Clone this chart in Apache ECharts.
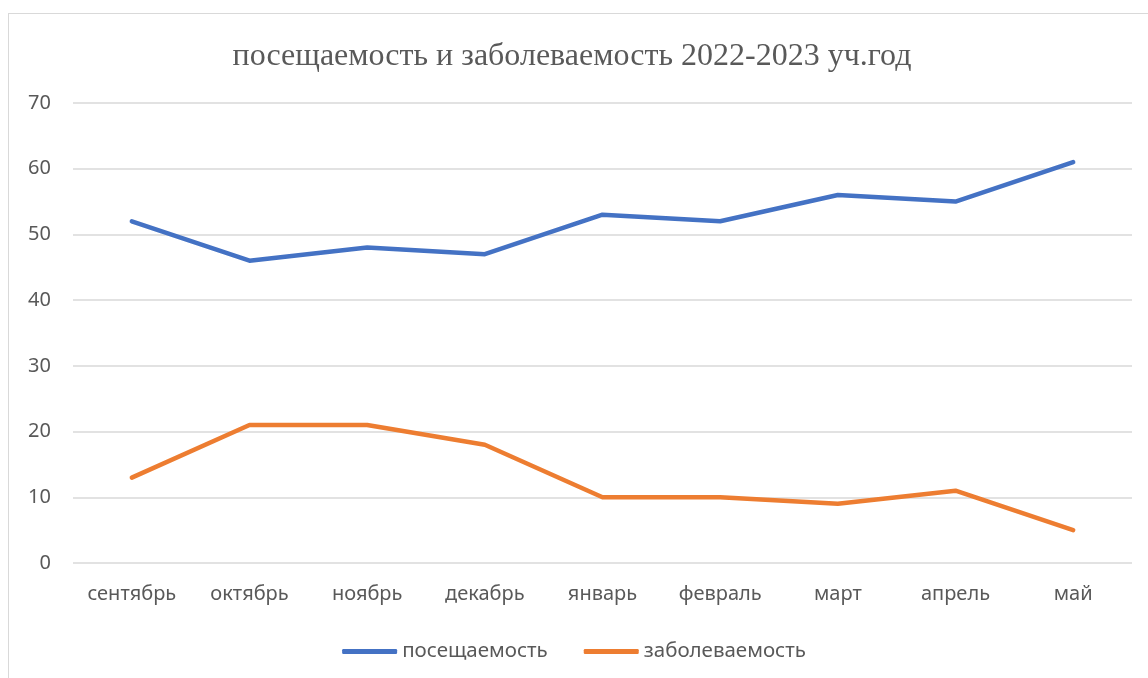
<!DOCTYPE html>
<html><head><meta charset="utf-8">
<script src="https://cdn.jsdelivr.net/npm/echarts@6/dist/echarts.min.js"></script>
<style>
html,body{margin:0;padding:0;background:#fff;}
#frame{position:absolute;left:8px;top:13px;width:1200px;height:700px;border:1.5px solid #d9d9d9;box-sizing:border-box;}
#c{position:absolute;left:0;top:0;width:1148px;height:678px;}
</style></head>
<body>
<div id="frame"></div>
<div id="c"></div>
<script>
const titleText = 'посещаемость и заболеваемость 2022-2023 уч.год';
const categories = ['сентябрь','октябрь','ноябрь','декабрь','январь','февраль','март','апрель','май'];
const attendance = [52,46,48,47,53,52,56,55,61];
const illness = [13,21,21,18,10,10,9,11,5];
const seriesNames = ['посещаемость','заболеваемость'];

const chart = echarts.init(document.getElementById('c'));
const font = '"Noto Sans", "Open Sans", sans-serif';
chart.setOption({
  animation:false,
  title:{text:titleText,left:567,textAlign:'center',top:36,
    textStyle:{fontFamily:'"Liberation Serif","DejaVu Serif",serif',fontSize:32,fontWeight:'normal',color:'#595959'}},
  grid:{left:73,right:16,top:103,bottom:115},
  legend:{data:seriesNames,left:'center',top:636,icon:'roundRect',itemWidth:55,itemHeight:5,itemGap:36,
    textStyle:{fontFamily:font,fontSize:20.5,color:'#595959',padding:[0,0,0,0]}},
  xAxis:{type:'category',data:categories,boundaryGap:true,
    axisLine:{show:false},axisTick:{show:false},
    axisLabel:{fontFamily:font,fontSize:20,color:'#595959',margin:21}},
  yAxis:{type:'value',min:0,max:70,interval:10,
    axisLine:{show:false},axisTick:{show:false},
    splitLine:{lineStyle:{color:'#d9d9d9',width:1.5}},
    axisLabel:{fontFamily:font,fontSize:20,color:'#595959',margin:22}},
  series:[
    {name:seriesNames[0],type:'line',data:attendance,showSymbol:false,symbol:'none',
      lineStyle:{color:'#4472C4',width:4.5,cap:'round',join:'round'},itemStyle:{color:'#4472C4'}},
    {name:seriesNames[1],type:'line',data:illness,showSymbol:false,symbol:'none',
      lineStyle:{color:'#ED7D31',width:4.5,cap:'round',join:'round'},itemStyle:{color:'#ED7D31'}}
  ]
});
</script>
</body></html>
